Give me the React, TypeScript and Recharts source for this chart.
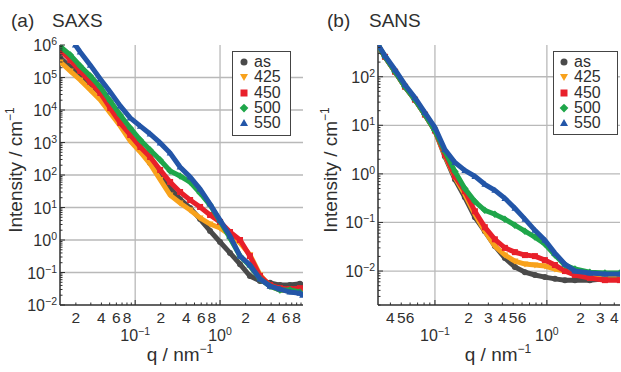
import React from "react";
import { CartesianGrid, Legend, Scatter, ScatterChart, XAxis, YAxis } from "recharts";

const FONT = '"Liberation Sans", Arial, sans-serif';
const INK = "#2f2f2f";
const GRID = "#b9b9b9";

const seriesNames = ["as", "425", "450", "500", "550"];
const seriesColors = ["#4a4a4a", "#f8a21c", "#e8202a", "#1fa64a", "#2356a8"];
const seriesShapes = ["circle", "down", "square", "diamond", "up"];

// (a) SAXS  [q / nm^-1, intensity / cm^-1]
const saxsAs: [number, number][] = [
  [0.0131, 4.0e5], [0.0172, 2.1e5], [0.0225, 1.04e5], [0.0296, 5.1e4], [0.0388, 2.5e4],
  [0.0508, 1.0e4], [0.0667, 4.0e3], [0.0874, 1.48e3], [0.115, 590], [0.15, 234],
  [0.197, 100], [0.258, 40], [0.338, 18], [0.444, 9.7], [0.582, 4.4], [0.763, 1.9],
  [1.0, 0.87], [1.31, 0.4], [1.72, 0.18], [2.25, 0.078], [2.96, 0.055], [3.88, 0.048],
  [5.08, 0.041], [6.66, 0.041], [8.74, 0.045], [9.4, 0.04],
];
const saxs425: [number, number][] = [
  [0.0131, 3.0e5], [0.0172, 1.58e5], [0.0225, 8.4e4], [0.0296, 4.1e4], [0.0388, 2.03e4],
  [0.0508, 8.1e3], [0.0667, 3.2e3], [0.0874, 1.11e3], [0.115, 510], [0.15, 218],
  [0.197, 72], [0.258, 24], [0.338, 13.7], [0.444, 8.4], [0.582, 4.75], [0.763, 3.1],
  [1.0, 2.34], [1.31, 1.43], [1.72, 0.81], [2.25, 0.35], [2.96, 0.084], [3.88, 0.038],
  [5.08, 0.029], [6.66, 0.027], [8.74, 0.029],
];
const saxs450: [number, number][] = [
  [0.0131, 7.0e5], [0.0172, 3.45e5], [0.0225, 1.58e5], [0.0296, 7.3e4], [0.0388, 3.34e4],
  [0.0508, 1.15e4], [0.0667, 4.0e3], [0.0874, 1.7e3], [0.115, 728], [0.15, 358],
  [0.197, 143], [0.258, 61], [0.338, 30], [0.444, 17], [0.582, 10.4], [0.763, 5.9],
  [1.0, 3.6], [1.31, 1.76], [1.72, 1.0], [2.25, 0.32], [2.96, 0.078], [3.88, 0.041],
  [5.08, 0.033], [6.66, 0.031], [8.74, 0.033],
];
const saxs500: [number, number][] = [
  [0.0131, 9.0e5], [0.0172, 4.9e5], [0.0225, 2.26e5], [0.0296, 1.11e5], [0.0388, 5.1e4],
  [0.0508, 1.89e4], [0.0667, 7.0e3], [0.0874, 2.8e3], [0.115, 1.19e3], [0.15, 590],
  [0.197, 290], [0.258, 133], [0.338, 93], [0.444, 61], [0.582, 28], [0.763, 11.9],
  [1.0, 3.8], [1.31, 1.15], [1.72, 0.32], [2.25, 0.16], [2.96, 0.063], [3.88, 0.038],
  [5.08, 0.029], [6.66, 0.029], [8.74, 0.025],
];
const saxs550: [number, number][] = [
  [0.0197, 1.0e6], [0.0225, 6.1e5], [0.0296, 2.4e5], [0.0388, 9.0e4], [0.0508, 3.6e4],
  [0.0667, 1.33e4], [0.0874, 5.7e3], [0.115, 3.2e3], [0.15, 1.83e3], [0.197, 970],
  [0.258, 475], [0.338, 176], [0.444, 87], [0.582, 37], [0.763, 12.8], [1.0, 4.1],
  [1.31, 1.33], [1.72, 0.32], [2.25, 0.17], [2.96, 0.063], [3.88, 0.038], [5.08, 0.031],
  [6.66, 0.025], [8.74, 0.023], [9.4, 0.02],
];

// (b) SANS
const sansAs: [number, number][] = [
  [0.031, 440], [0.0358, 257], [0.044, 127], [0.054, 62.4], [0.0663, 33.7], [0.0814, 16.6],
  [0.1, 7.8], [0.1228, 2.28], [0.151, 0.77], [0.185, 0.33], [0.2276, 0.128], [0.279, 0.066],
  [0.343, 0.0326], [0.4217, 0.0185], [0.518, 0.0121], [0.637, 0.0095], [0.782, 0.0083],
  [0.96, 0.0075], [1.18, 0.0069], [1.45, 0.0065], [1.78, 0.0065], [2.42, 0.0065],
  [3.3, 0.0069], [4.49, 0.0072],
];
const sans425: [number, number][] = [
  [0.031, 440], [0.0358, 257], [0.044, 127], [0.054, 62.4], [0.0663, 33.7], [0.0814, 16.6],
  [0.1, 7.8], [0.1228, 2.39], [0.151, 0.85], [0.185, 0.38], [0.2276, 0.148], [0.279, 0.066],
  [0.343, 0.0326], [0.4217, 0.0213], [0.518, 0.016], [0.637, 0.0139], [0.782, 0.0133],
  [0.96, 0.0127], [1.18, 0.011], [1.45, 0.01], [1.78, 0.0095], [2.42, 0.0087],
  [3.3, 0.0083], [4.49, 0.0083],
];
const sans450: [number, number][] = [
  [0.031, 440], [0.0358, 257], [0.044, 127], [0.054, 62.4], [0.0663, 33.7], [0.0814, 16.6],
  [0.1, 7.8], [0.1228, 2.51], [0.151, 0.89], [0.185, 0.44], [0.2276, 0.17], [0.279, 0.08],
  [0.343, 0.045], [0.4217, 0.03], [0.518, 0.0245], [0.637, 0.0213], [0.782, 0.0203],
  [0.96, 0.0168], [1.18, 0.0133], [1.45, 0.01], [1.78, 0.0083], [2.42, 0.0072],
  [3.3, 0.0065], [4.49, 0.0065],
];
const sans500: [number, number][] = [
  [0.031, 440], [0.0358, 257], [0.044, 127], [0.054, 62.4], [0.0663, 33.7], [0.0814, 16.6],
  [0.1, 7.8], [0.1228, 2.9], [0.151, 1.12], [0.185, 0.5], [0.2276, 0.27], [0.279, 0.178],
  [0.343, 0.148], [0.4217, 0.117], [0.518, 0.088], [0.637, 0.066], [0.782, 0.05],
  [0.96, 0.036], [1.18, 0.0213], [1.45, 0.0133], [1.78, 0.011], [2.42, 0.0095],
  [3.3, 0.0091], [4.49, 0.0091],
];
const sans550: [number, number][] = [
  [0.031, 460], [0.0358, 270], [0.044, 139], [0.054, 68.5], [0.0663, 37], [0.0814, 18.3],
  [0.1, 9.0], [0.1228, 3.18], [0.151, 1.72], [0.185, 1.18], [0.2276, 0.89], [0.279, 0.61],
  [0.343, 0.46], [0.4217, 0.314], [0.518, 0.196], [0.637, 0.117], [0.782, 0.069],
  [0.96, 0.043], [1.18, 0.0234], [1.45, 0.0139], [1.78, 0.01], [2.42, 0.0091],
  [3.3, 0.0087], [4.49, 0.0087],
];

const saxsSeries = [saxsAs, saxs425, saxs450, saxs500, saxs550];
const sansSeries = [sansAs, sans425, sans450, sans500, sans550];

// axes
const minorSteps = [2, 3, 4, 5, 6, 7, 8, 9];

const saxsXDomain = [0.013, 9.5];
const saxsYDomain = [0.01, 1e6];
const saxsXDecades = [0.01, 0.1, 1];
const saxsYDecades = [0.01, 0.1, 1, 10, 100, 1e3, 1e4, 1e5, 1e6];
const saxsXMinorLabels: [number, string][] = [
  [0.02, "2"], [0.04, "4"], [0.06, "6"], [0.08, "8"],
  [0.2, "2"], [0.4, "4"], [0.6, "6"], [0.8, "8"],
  [2, "2"], [4, "4"], [6, "6"], [8, "8"],
];
const saxsXMajorLabels: [number, string][] = [[0.1, "−1"], [1, "0"]];
const saxsYMajorLabels: [number, string][] = [
  [0.01, "−2"], [0.1, "−1"], [1, "0"], [10, "1"], [100, "2"],
  [1e3, "3"], [1e4, "4"], [1e5, "5"], [1e6, "6"],
];
const saxsGridX = [0.1, 1];
const saxsGridY = [0.1, 1, 10, 100, 1e3, 1e4, 1e5];

const sansXDomain = [0.031, 4.5];
const sansYDomain = [0.002, 450];
const sansXDecades = [0.01, 0.1, 1];
const sansYDecades = [0.001, 0.01, 0.1, 1, 10, 100];
const sansXMinorLabels: [number, string][] = [
  [0.04, "4"], [0.05, "5"], [0.06, "6"],
  [0.2, "2"], [0.3, "3"], [0.4, "4"], [0.5, "5"], [0.6, "6"],
  [2, "2"], [3, "3"], [4, "4"],
];
const sansXMajorLabels: [number, string][] = [[0.1, "−1"], [1, "0"]];
const sansYMajorLabels: [number, string][] = [
  [0.01, "−2"], [0.1, "−1"], [1, "0"], [10, "1"], [100, "2"],
];
const sansGridX = [0.1, 1];
const sansGridY = [0.01, 0.1, 1, 10, 100];

const near = (a: number, b: number) => Math.abs(a / b - 1) < 1e-6;

const logTicks = (decades: number[], [lo, hi]: number[]) =>
  decades
    .flatMap((d) => [d, ...minorSteps.map((m) => d * m)])
    .filter((v) => v >= lo * 0.999 && v <= hi * 1.001);

function Mark({ kind, cx, cy, s, color }: any) {
  const h = s / 2;
  if (kind === "circle") return <circle cx={cx} cy={cy} r={h} fill={color} />;
  if (kind === "square")
    return <rect x={cx - h} y={cy - h} width={s} height={s} fill={color} />;
  if (kind === "diamond") {
    const d = h * 1.25;
    return (
      <polygon
        points={`${cx},${cy - d} ${cx + d},${cy} ${cx},${cy + d} ${cx - d},${cy}`}
        fill={color}
      />
    );
  }
  const w = h * 1.15;
  if (kind === "up")
    return (
      <polygon
        points={`${cx},${cy - w} ${cx + w},${cy + h * 0.85} ${cx - w},${cy + h * 0.85}`}
        fill={color}
      />
    );
  return (
    <polygon
      points={`${cx},${cy + w} ${cx + w},${cy - h * 0.85} ${cx - w},${cy - h * 0.85}`}
      fill={color}
    />
  );
}

function xTick(side: string, decades: number[], minor: [number, string][], major: [number, string][]) {
  return (p: any) => {
    const { x, y, payload } = p;
    const v = payload.value;
    const big = decades.some((d) => near(d, v));
    const dir = side === "bottom" ? -1 : 1;
    const m = side === "bottom" ? minor.find(([t]) => near(t, v)) : undefined;
    const M = side === "bottom" ? major.find(([t]) => near(t, v)) : undefined;
    return (
      <g>
        <line x1={x} x2={x} y1={y} y2={y + dir * (big ? 5 : 2.5)} stroke={INK} strokeWidth={1} />
        {m && (
          <text x={x} y={y + 18} textAnchor="middle" fontSize={15.5} fill={INK}>
            {m[1]}
          </text>
        )}
        {M && (
          <text x={x} y={y + 36} textAnchor="middle" fontSize={16} fill={INK}>
            10
            <tspan dy={-6} fontSize={10.5}>
              {M[1]}
            </tspan>
          </text>
        )}
      </g>
    );
  };
}

function yTick(side: string, decades: number[], major: [number, string][]) {
  return (p: any) => {
    const { x, y, payload } = p;
    const v = payload.value;
    const big = decades.some((d) => near(d, v));
    const dir = side === "left" ? 1 : -1;
    const M = side === "left" ? major.find(([t]) => near(t, v)) : undefined;
    return (
      <g>
        <line x1={x} x2={x + dir * (big ? 5 : 2.5)} y1={y} y2={y} stroke={INK} strokeWidth={1} />
        {M && (
          <text x={x - 3} y={y + 6} textAnchor="end" fontSize={16} fill={INK}>
            10
            <tspan dy={-6} fontSize={10.5}>
              {M[1]}
            </tspan>
          </text>
        )}
      </g>
    );
  };
}

function LegendBox({ w, h, mx, tx }: any) {
  return (
    <div
      style={{
        width: w,
        height: h,
        border: "1.3px solid #444",
        background: "#fff",
        boxSizing: "border-box",
        paddingTop: 2,
        fontFamily: FONT,
      }}
    >
      {seriesNames.map((n, i) => (
        <div key={n} style={{ position: "relative", height: 15.3, color: INK }}>
          <svg width={14} height={15} style={{ position: "absolute", left: mx - 7, top: 0 }}>
            <Mark kind={seriesShapes[i]} cx={7} cy={8} s={7} color={seriesColors[i]} />
          </svg>
          <span
            style={{
              position: "absolute", left: tx, top: 0, display: "block",
              height: 15, fontSize: 16, lineHeight: "15px", overflow: "visible",
            }}
          >
            {n}
          </span>
        </div>
      ))}
    </div>
  );
}

function Panel(props: any) {
  const {
    width, margin, series, xDomain, yDomain, xDecades, yDecades,
    xMinor, xMajor, yMajor, gridX, gridY, legend,
  } = props;
  const xTicks = logTicks(xDecades, xDomain);
  const yTicks = logTicks(yDecades, yDomain);
  const axisLine = { stroke: INK, strokeWidth: 1.5 };
  return (
    <ScatterChart width={width} height={372} margin={margin}>
      <CartesianGrid stroke={GRID} strokeWidth={1.3} verticalValues={gridX} horizontalValues={gridY} />
      <XAxis
        dataKey="q" type="number" scale="log" domain={xDomain} allowDataOverflow
        ticks={xTicks} interval={0} height={40} tickSize={0} tickMargin={0}
        axisLine={axisLine} tickLine={false}
        tick={xTick("bottom", xDecades, xMinor, xMajor)}
      />
      <XAxis
        xAxisId="top" orientation="top" dataKey="q" type="number" scale="log" domain={xDomain}
        allowDataOverflow ticks={xTicks} interval={0} height={0} tickSize={0} tickMargin={0}
        axisLine={axisLine} tickLine={false}
        tick={xTick("top", xDecades, xMinor, xMajor)}
      />
      <YAxis
        dataKey="I" type="number" scale="log" domain={yDomain} allowDataOverflow
        ticks={yTicks} interval={0} width={50} tickSize={0} tickMargin={0}
        axisLine={axisLine} tickLine={false}
        tick={yTick("left", yDecades, yMajor)}
      />
      <YAxis
        yAxisId="right" orientation="right" dataKey="I" type="number" scale="log" domain={yDomain}
        allowDataOverflow ticks={yTicks} interval={0} width={0} tickSize={0} tickMargin={0}
        axisLine={axisLine} tickLine={false}
        tick={yTick("right", yDecades, yMajor)}
      />
      <Legend
        layout="vertical"
        align="center"
        verticalAlign="middle"
        wrapperStyle={{ left: legend.left, top: legend.top }}
        content={() => <LegendBox w={legend.w} h={legend.h} mx={legend.mx} tx={legend.tx} />}
      />
      {series.map((pts: [number, number][], i: number) => (
        <Scatter
          key={seriesNames[i]}
          name={seriesNames[i]}
          data={pts.map(([q, I]) => ({ q, I }))}
          fill={seriesColors[i]}
          line={{ stroke: seriesColors[i], strokeWidth: 5 }}
          lineType="joint"
          isAnimationActive={false}
          shape={(p: any) => (
            <Mark kind={seriesShapes[i]} cx={p.cx} cy={p.cy} s={6} color={seriesColors[i]} />
          )}
        />
      ))}
    </ScatterChart>
  );
}

export default function App() {
  return (
    <div
      style={{
        position: "absolute", left: 0, top: 0, width: 621, height: 372,
        background: "#fff", fontFamily: FONT, overflow: "hidden",
      }}
    >
      <div style={{ position: "absolute", left: 0, top: 0 }}>
        <Panel
          width={310}
          margin={{ top: 45, right: 7, bottom: 27, left: 10 }}
          series={saxsSeries}
          xDomain={saxsXDomain}
          yDomain={saxsYDomain}
          xDecades={saxsXDecades}
          yDecades={saxsYDecades}
          xMinor={saxsXMinorLabels}
          xMajor={saxsXMajorLabels}
          yMajor={saxsYMajorLabels}
          gridX={saxsGridX}
          gridY={saxsGridY}
          legend={{ left: 232, top: 51, w: 59, h: 85, mx: 11, tx: 21 }}
        />
      </div>
      <div style={{ position: "absolute", left: 310, top: 0 }}>
        <Panel
          width={311}
          margin={{ top: 45, right: 1, bottom: 27, left: 18 }}
          series={sansSeries}
          xDomain={sansXDomain}
          yDomain={sansYDomain}
          xDecades={sansXDecades}
          yDecades={sansYDecades}
          xMinor={sansXMinorLabels}
          xMajor={sansXMajorLabels}
          yMajor={sansYMajorLabels}
          gridX={sansGridX}
          gridY={sansGridY}
          legend={{ left: 243, top: 51, w: 65, h: 84, mx: 10, tx: 20 }}
        />
      </div>
      <svg
        width={621}
        height={372}
        style={{ position: "absolute", left: 0, top: 0, pointerEvents: "none" }}
      >
        <g fill={INK} fontSize={19}>
          <text x={11} y={27}>(a)</text>
          <text x={52} y={27}>SAXS</text>
          <text x={327} y={27}>(b)</text>
          <text x={369} y={27}>SANS</text>
          <text x={180} y={361} textAnchor="middle">
            q / nm<tspan dy={-8} fontSize={12}>−1</tspan>
          </text>
          <text x={498} y={361} textAnchor="middle">
            q / nm<tspan dy={-8} fontSize={12}>−1</tspan>
          </text>
          <text transform="translate(22,170) rotate(-90)" textAnchor="middle">
            Intensity / cm<tspan dy={-8} fontSize={12}>−1</tspan>
          </text>
          <text transform="translate(337,170) rotate(-90)" textAnchor="middle">
            Intensity / cm<tspan dy={-8} fontSize={12}>−1</tspan>
          </text>
        </g>
      </svg>
    </div>
  );
}
